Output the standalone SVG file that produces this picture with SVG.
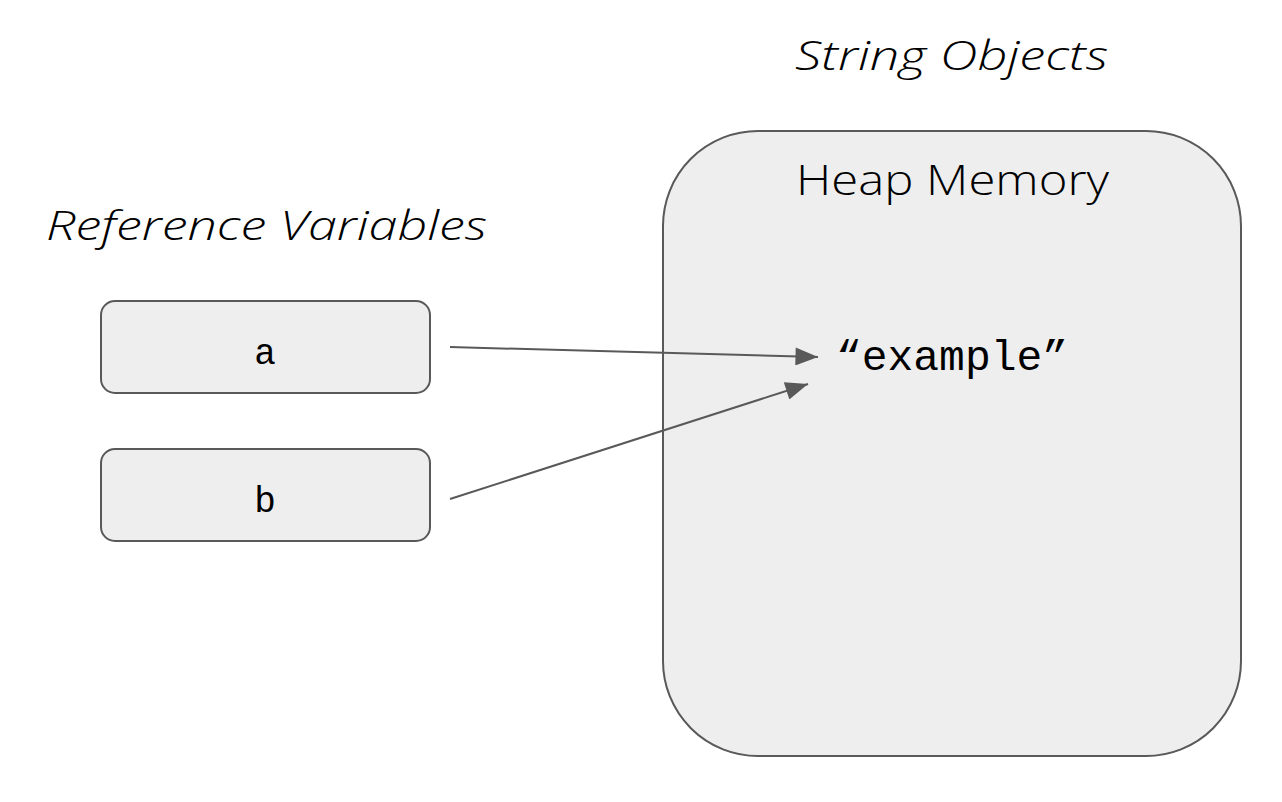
<svg xmlns="http://www.w3.org/2000/svg" width="1282" height="802" viewBox="0 0 1282 802">
<defs>
<style>
.box{fill:#eeeeee;stroke:#595959;stroke-width:2}
.lbl{font-family:"Open Sans","Liberation Sans",sans-serif;fill:#000;font-weight:300}
.it{font-style:italic}
.mono{font-family:"Liberation Mono","DejaVu Sans Mono",monospace;fill:#000}
.conn{stroke:#595959;stroke-width:2;fill:none}
</style>
<marker id="ah2" viewBox="0 0 10 8" refX="10" refY="4" markerWidth="24" markerHeight="18" markerUnits="userSpaceOnUse" orient="auto">
<path d="M0,0 L10,4 L0,8 z" fill="#595959"/>
</marker>
</defs>
<rect width="1282" height="802" fill="#ffffff"/>
<text class="lbl it" x="795" y="70" font-size="40" textLength="313" lengthAdjust="spacingAndGlyphs">String Objects</text>
<text class="lbl it" x="46" y="240" font-size="40" textLength="441" lengthAdjust="spacingAndGlyphs">Reference Variables</text>
<g id="heap">
<rect class="box" x="663" y="131" width="578" height="625" rx="95" ry="95"/>
<text class="lbl" x="796" y="195" font-size="42" textLength="313" lengthAdjust="spacingAndGlyphs">Heap Memory</text>
<text class="mono" x="836" y="370" font-size="42" textLength="232" lengthAdjust="spacingAndGlyphs">“example”</text>
</g>
<g id="var-a">
<rect class="box" x="101" y="301" width="329" height="92" rx="14" ry="14"/>
<text class="mono" x="265" y="364" font-size="36" text-anchor="middle">a</text>
</g>
<g id="var-b">
<rect class="box" x="101" y="449" width="329" height="92" rx="14" ry="14"/>
<text class="mono" x="265" y="512" font-size="36" text-anchor="middle">b</text>
</g>
<g id="connectors">
<line class="conn" x1="450" y1="347" x2="818" y2="357" marker-end="url(#ah2)"/>
<line class="conn" x1="450" y1="499" x2="808" y2="384" marker-end="url(#ah2)"/>
</g>
</svg>
